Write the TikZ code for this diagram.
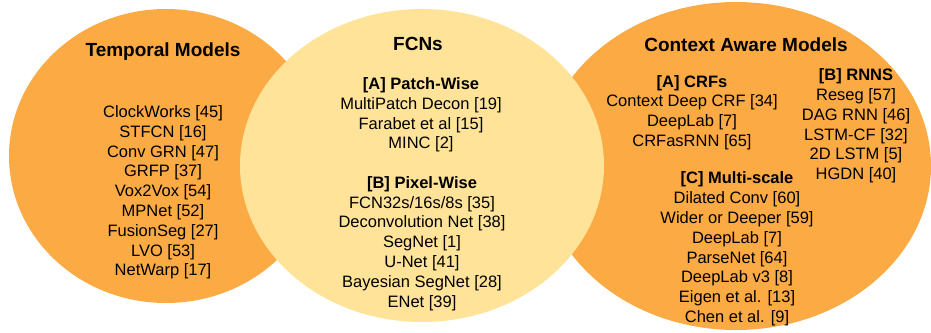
\documentclass[tikz,border=0pt]{standalone}
\usepackage{fontspec}
\setmainfont{Liberation Sans}
\usepackage{xcolor}
\definecolor{vennorange}{RGB}{252,170,68}
\definecolor{vennyellow}{RGB}{255,227,153}
\usetikzlibrary{positioning}
\tikzset{
	blob/.style   = {draw=none},
	ttl/.style    = {align=center,inner sep=0pt,
		font=\fontsize{19}{22}\selectfont\bfseries},
	lst/.style    = {align=center,inner sep=0pt,
		font=\fontsize{16.5}{19.8}\selectfont},
}

\begin{document}
\begin{tikzpicture}[x=1pt,y=1pt]
	\useasboundingbox (0,0) rectangle (931,332);
	\clip (0,0) rectangle (931,332);
	
	% the three sets
	\fill[blob,vennorange] (166,176) ellipse [x radius=157,y radius=147];
	\fill[blob,vennorange] (736,166) ellipse [x radius=195,y radius=164];
	\fill[blob,vennyellow] (422,166.5) ellipse [x radius=182,y radius=156.5];
	
	% temporal models
	\node (tm) [ttl] at (163,280) {Temporal Models};
	\node (tmlist) [lst] at (163,139.5)
	{ClockWorks [45]\\STFCN [16]\\Conv GRN [47]\\GRFP [37]\\Vox2Vox [54]\\
		MPNet [52]\\FusionSeg [27]\\LVO [53]\\NetWarp [17]};
	
	% fcns
	\node (fcn) [ttl] at (418,288) {FCNs};
	\node (patch) [lst] at (421,217)
	{\textbf{[A] Patch-Wise}\\MultiPatch Decon [19]\\Farabet et al [15]\\MINC [2]};
	\node (pixel) [lst] at (422,88.5)
	{\textbf{[B] Pixel-Wise}\\FCN32s/16s/8s [35]\\Deconvolution Net [38]\\
		SegNet [1]\\U-Net [41]\\Bayesian SegNet [28]\\ENet [39]};
	
	% context aware models
	\node (cam) [ttl] at (746,287) {Context Aware Models};
	\node (crf) [lst] at (692,219.5)
	{\textbf{[A] CRFs}\\Context Deep CRF [34]\\DeepLab [7]\\CRFasRNN [65]};
	\node (rnn) [lst] at (856,206)
	{\textbf{[B] RNNS}\\Reseg [57]\\DAG RNN [46]\\LSTM-CF [32]\\2D LSTM [5]\\HGDN [40]};
	\node (ms) [lst] at (737,83)
	{\textbf{[C] Multi-scale}\\Dilated Conv [60]\\Wider or Deeper [59]\\DeepLab [7]\\
		ParseNet [64]\\DeepLab v3 [8]\\Eigen et al. [13]\\Chen et al. [9]};
\end{tikzpicture}
\end{document}
